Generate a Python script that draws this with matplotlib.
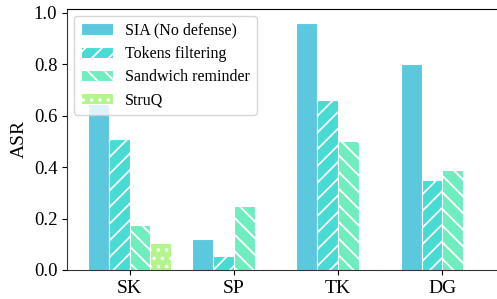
import numpy as np
import matplotlib
matplotlib.use("Agg")
import matplotlib.pyplot as plt

# data
tasks = ["SK", "SP", "TK", "DG"]
methods = ["SIA (No defense)", "Tokens filtering", "Sandwich reminder", "StruQ"]
sia = [0.66, 0.12, 0.96, 0.80]
tokens = [0.51, 0.055, 0.66, 0.35]
sandwich = [0.175, 0.25, 0.50, 0.39]
struq = [0.105, 0.0, 0.004, 0.0]

colors = ["#5bc8dd", "#48dbd4", "#70edbf", "#b3f58c"]
hatches = ["", "//", "\\\\", ".."]

plt.rcParams["font.family"] = ["Liberation Serif", "DejaVu Serif"]
plt.rcParams["hatch.linewidth"] = 1.3

fig = plt.figure(figsize=(4.97, 2.99), dpi=100)
ax = fig.add_axes([67 / 497, 29 / 299, 438 / 497, 261 / 299])

x = np.arange(len(tasks))
w = 0.2
series = [sia, tokens, sandwich, struq]
for i, vals in enumerate(series):
    ax.bar(x + (i - 1.5) * w, vals, w, label=methods[i], color=colors[i],
           hatch=hatches[i], edgecolor="white", linewidth=0.8)

ax.set_xlim(-0.6, 3.6)
ax.set_ylim(0, 1.015)
ax.set_xticks(x)
ax.set_xticklabels(tasks, fontsize=14)
ax.set_yticks([0, 0.2, 0.4, 0.6, 0.8, 1.0])
ax.set_yticklabels(["0.0", "0.2", "0.4", "0.6", "0.8", "1.0"], fontsize=13.5)
ax.set_ylabel("ASR", fontsize=14)
for s in ["left", "bottom"]:
    ax.spines[s].set_color("#333333")

ax.legend(loc="upper left", fontsize=11.5, frameon=True, fancybox=True,
          edgecolor="#cccccc", handlelength=2.0, labelspacing=0.45,
          borderaxespad=0.45)

fig.savefig("out.png", dpi=100)
